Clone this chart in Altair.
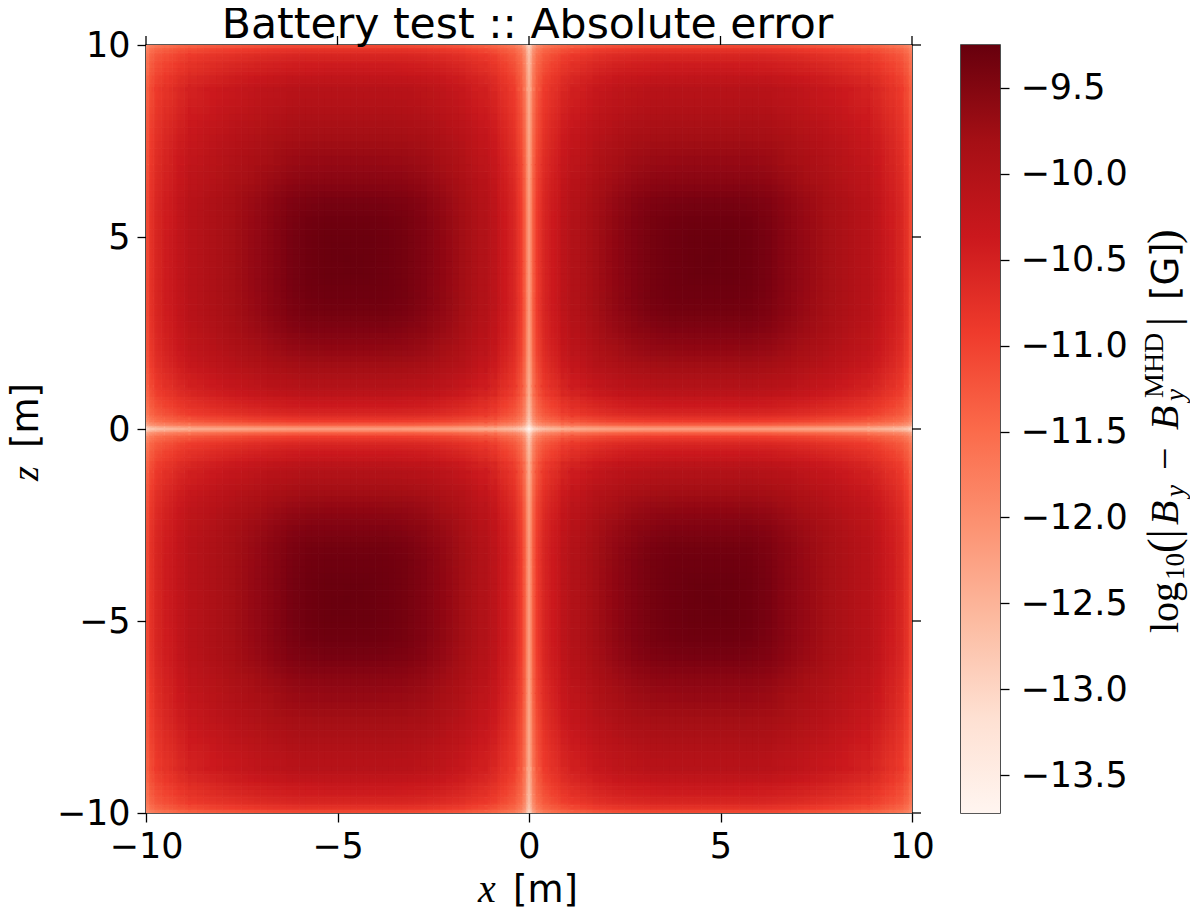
import altair as alt
import pandas as pd

# half-axis cell edges (the field is mirrored into the four quadrants)
x_edges = [0, .06, .15, .3, .5, .75, 1, 1.5, 2, 2.5, 3, 3.5, 4, 4.5, 5, 5.5, 6, 6.5, 7, 7.5, 8, 8.5, 9, 9.3, 9.6, 9.8, 9.93, 10]
z_edges = [0, .06, .15, .3, .5, .75, 1, 1.45, 1.9, 2.35, 2.8, 3.25, 3.75, 4.2, 4.7, 5.2, 5.7, 6.2, 6.7, 7.3, 7.85, 8.4, 9, 9.3, 9.6, 9.8, 9.93, 10]
peak = -9.28
# depth below the peak of log10|error|, read per cell: rows run from z=0 to |z|=10, columns from x=0 to |x|=10
depth_rows = [
[4.48,3.95,3.59,3.37,3.26,3.18,3.09,3.00,2.95,2.92,2.90,2.90,2.90,2.90,2.90,2.90,2.91,2.94,2.97,3.01,3.06,3.11,3.20,3.28,3.36,3.49,3.68],
[3.95,3.39,2.98,2.75,2.63,2.53,2.42,2.33,2.27,2.23,2.21,2.20,2.20,2.20,2.20,2.20,2.22,2.25,2.29,2.33,2.39,2.45,2.55,2.64,2.74,2.87,3.09],
[3.59,2.98,2.55,2.28,2.15,2.04,1.91,1.80,1.73,1.69,1.66,1.65,1.65,1.65,1.65,1.65,1.67,1.71,1.75,1.81,1.87,1.95,2.06,2.16,2.27,2.43,2.66],
[3.37,2.75,2.28,2.00,1.85,1.73,1.59,1.47,1.39,1.34,1.31,1.30,1.30,1.30,1.30,1.30,1.32,1.37,1.42,1.48,1.55,1.63,1.75,1.87,1.99,2.16,2.41],
[3.26,2.63,2.15,1.85,1.69,1.57,1.42,1.28,1.20,1.14,1.11,1.10,1.10,1.10,1.10,1.10,1.12,1.17,1.23,1.29,1.37,1.46,1.59,1.71,1.83,2.02,2.27],
[3.18,2.53,2.04,1.73,1.57,1.43,1.28,1.13,1.04,.98,.95,.93,.93,.93,.93,.93,.96,1.01,1.07,1.14,1.23,1.32,1.46,1.59,1.71,1.90,2.17],
[3.09,2.42,1.91,1.59,1.42,1.28,1.11,.95,.85,.78,.74,.72,.72,.72,.72,.72,.75,.81,.88,.96,1.06,1.16,1.30,1.44,1.58,1.77,2.05],
[3.00,2.33,1.80,1.47,1.28,1.13,.95,.77,.66,.57,.52,.51,.50,.50,.50,.51,.54,.62,.70,.79,.89,1.00,1.16,1.30,1.45,1.66,1.94],
[2.95,2.27,1.73,1.39,1.20,1.04,.85,.66,.53,.43,.37,.35,.34,.34,.34,.35,.39,.48,.57,.67,.79,.90,1.07,1.22,1.37,1.59,1.88],
[2.92,2.23,1.69,1.34,1.14,.98,.78,.57,.43,.32,.25,.22,.21,.21,.21,.22,.27,.38,.48,.59,.71,.84,1.01,1.17,1.32,1.54,1.83],
[2.90,2.21,1.66,1.31,1.11,.95,.74,.52,.37,.25,.15,.11,.10,.10,.10,.12,.19,.31,.43,.54,.67,.80,.98,1.14,1.29,1.51,1.81],
[2.90,2.20,1.65,1.30,1.10,.93,.72,.51,.35,.22,.11,.06,.04,.04,.04,.07,.15,.29,.41,.52,.65,.78,.97,1.12,1.28,1.50,1.80],
[2.90,2.20,1.65,1.30,1.10,.93,.72,.50,.34,.21,.10,.04,.01,.01,.01,.05,.14,.28,.40,.52,.65,.78,.96,1.12,1.28,1.50,1.80],
[2.90,2.20,1.65,1.30,1.10,.93,.72,.50,.34,.21,.10,.04,.01,.00,.01,.05,.14,.28,.40,.52,.65,.78,.96,1.12,1.28,1.50,1.80],
[2.90,2.20,1.65,1.30,1.10,.93,.72,.50,.34,.21,.10,.04,.01,.01,.01,.05,.14,.28,.40,.52,.65,.78,.96,1.12,1.28,1.50,1.80],
[2.90,2.20,1.65,1.30,1.10,.93,.72,.51,.35,.22,.12,.07,.05,.05,.05,.08,.16,.29,.41,.53,.65,.78,.97,1.13,1.28,1.50,1.80],
[2.91,2.22,1.67,1.32,1.12,.96,.75,.54,.39,.27,.19,.15,.14,.14,.14,.16,.22,.33,.44,.56,.68,.81,.99,1.15,1.30,1.52,1.82],
[2.94,2.25,1.71,1.37,1.17,1.01,.81,.62,.48,.38,.31,.29,.28,.28,.28,.29,.33,.43,.53,.63,.75,.87,1.04,1.20,1.35,1.56,1.86],
[2.97,2.29,1.75,1.42,1.23,1.07,.88,.70,.57,.48,.43,.41,.40,.40,.40,.41,.44,.53,.62,.71,.82,.94,1.10,1.25,1.40,1.61,1.90],
[3.01,2.33,1.81,1.48,1.29,1.14,.96,.79,.67,.59,.54,.52,.52,.52,.52,.53,.56,.63,.71,.80,.90,1.01,1.17,1.31,1.46,1.67,1.95],
[3.06,2.39,1.87,1.55,1.37,1.23,1.06,.89,.79,.71,.67,.65,.65,.65,.65,.65,.68,.75,.82,.90,1.00,1.10,1.26,1.39,1.53,1.73,2.01],
[3.11,2.45,1.95,1.63,1.46,1.32,1.16,1.00,.90,.84,.80,.78,.78,.78,.78,.78,.81,.87,.94,1.01,1.10,1.20,1.35,1.48,1.61,1.81,2.08],
[3.20,2.55,2.06,1.75,1.59,1.46,1.30,1.16,1.07,1.01,.98,.97,.96,.96,.96,.97,.99,1.04,1.10,1.17,1.26,1.35,1.48,1.61,1.74,1.92,2.19],
[3.28,2.64,2.16,1.87,1.71,1.59,1.44,1.30,1.22,1.17,1.14,1.12,1.12,1.12,1.12,1.13,1.15,1.20,1.25,1.31,1.39,1.48,1.61,1.73,1.85,2.03,2.29],
[3.36,2.74,2.27,1.99,1.83,1.71,1.58,1.45,1.37,1.32,1.29,1.28,1.28,1.28,1.28,1.28,1.30,1.35,1.40,1.46,1.53,1.61,1.74,1.85,1.97,2.15,2.40],
[3.49,2.87,2.43,2.16,2.02,1.90,1.77,1.66,1.59,1.54,1.51,1.50,1.50,1.50,1.50,1.50,1.52,1.56,1.61,1.67,1.73,1.81,1.92,2.03,2.15,2.31,2.55],
[3.68,3.09,2.66,2.41,2.27,2.17,2.05,1.94,1.88,1.83,1.81,1.80,1.80,1.80,1.80,1.80,1.82,1.86,1.90,1.95,2.01,2.08,2.19,2.29,2.40,2.55,2.77],
]
axis_ticks = [-10, -5, 0, 5, 10]
cbar_ticks = [-9.5, -10.0, -10.5, -11.0, -11.5, -12.0, -12.5, -13.0, -13.5]
cbar_low, cbar_high = -13.72, -9.25
reds = ["#fff5f0", "#fee0d2", "#fcbba1", "#fc9272", "#fb6a4a", "#ef3b2c", "#cb181d", "#a50f15", "#67000d"]
title_text = "Battery test :: Absolute error"

SANS = "DejaVu Sans"
SERIF = "Liberation Serif"
TICK = 1.3
W, H = 766, 768
CW = 39
LABEL = 35


def cells(shift):
    """All cells of the field; `shift` (a fraction of each cell) softens the cell steps when layered."""
    rows = []
    n = len(x_edges) - 1
    for j in range(n):
        zw = z_edges[j + 1] - z_edges[j]
        for i in range(n):
            xw = x_edges[i + 1] - x_edges[i]
            v = round(peak - depth_rows[j][i], 2)
            for sx in (-1, 1):
                for sz in (-1, 1):
                    rows.append({
                        "x0": sx * (x_edges[i] + shift * xw),
                        "x1": sx * (x_edges[i + 1] + shift * xw),
                        "z0": sz * (z_edges[j] + shift * zw),
                        "z1": sz * (z_edges[j + 1] + shift * zw),
                        "v": v,
                    })
    return pd.DataFrame(rows)


ticks = pd.DataFrame({"t": axis_ticks})
stops = [cbar_low + (cbar_high - cbar_low) * k / 8 for k in range(9)]
color_scale = alt.Scale(domain=stops, range=reds, clamp=True)
xs = alt.Scale(domain=[-10, 10], nice=False, zero=False)
zs = alt.Scale(domain=[-10, 10], nice=False, zero=False)


def axis():
    return alt.Axis(values=axis_ticks, format="d", title=None, grid=False, domain=False,
                    tickSize=9, tickWidth=TICK, tickColor="black", labelFontSize=LABEL,
                    labelFont=SANS, labelColor="black", labelPadding=7, labelFlush=False,
                    labelOverlap=False)


def heat_layer(shift, opacity, stroked):
    mark = dict(clip=True, opacity=opacity)
    enc = dict(
        x=alt.X("x0:Q", scale=xs, axis=axis()),
        x2="x1:Q",
        y=alt.Y("z0:Q", scale=zs, axis=axis()),
        y2="z1:Q",
        fill=alt.Fill("v:Q", scale=color_scale, legend=None),
    )
    if stroked:
        mark["strokeWidth"] = 0.6
        enc["stroke"] = alt.Stroke("v:Q", scale=color_scale, legend=None)
    return alt.Chart(cells(shift)).mark_rect(**mark).encode(**enc)


rule = dict(color="black", strokeWidth=TICK)
top_ticks = alt.Chart(ticks).mark_rule(**rule).encode(
    x=alt.X("t:Q", scale=xs, axis=axis()), y=alt.value(-9), y2=alt.value(0))
right_ticks = alt.Chart(ticks).mark_rule(**rule).encode(
    y=alt.Y("t:Q", scale=zs, axis=axis()), x=alt.value(W), x2=alt.value(W + 9))


def label(text, x, y, size=37, font=SANS, style="normal", angle=0, align="left"):
    return alt.Chart(pd.DataFrame({"a": [0]})).mark_text(
        text=text, font=font, fontSize=size, fontStyle=style, angle=angle, align=align,
        baseline="alphabetic", color="black",
    ).encode(x=alt.value(x), y=alt.value(y))


main_labels = [
    label(title_text, 381.5, -7, 42.6, SANS, "normal", 0, "center"),
    label("x", 332, 857, 40, SERIF, "italic"),
    label("[m]", 367, 857, 37),
    label("z", -108, 436, 38, SERIF, "italic", 270),
    label("[m]", -108, 403, 37, SANS, "normal", 270),
]
main = alt.layer(
    heat_layer(0, 1, True), heat_layer(1 / 3, 1 / 2, False), heat_layer(-1 / 3, 1 / 3, False),
    top_ticks, right_ticks, *main_labels,
).properties(width=W, height=H)

gradient = alt.LinearGradient(
    gradient="linear", x1=0, x2=0, y1=1, y2=0,
    stops=[alt.GradientStop(color=c, offset=k / 8) for k, c in enumerate(reds)],
)
bar_scale = alt.Scale(domain=[cbar_low, cbar_high], nice=False, zero=False)
bar = alt.Chart(pd.DataFrame({"lo": [cbar_low], "hi": [cbar_high]})).mark_rect(fill=gradient).encode(
    y=alt.Y("lo:Q", scale=bar_scale, axis=alt.Axis(
        orient="right", values=cbar_ticks, format=".1f", title=None, grid=False, domain=False,
        tickSize=9, tickWidth=TICK, tickColor="black", labelFontSize=LABEL, labelFont=SANS,
        labelColor="black", labelPadding=11, labelFlush=False, labelOverlap=False)),
    y2="hi:Q",
    x=alt.value(0), x2=alt.value(CW),
)
# mathtext of the colourbar title, piece by piece (rotated)
OX, OY = 961, 45
BASE = 1178 - OX
bar_labels = [
    label("log", BASE, 633 - OY, 40, SERIF, "normal", 270),
    label("10", BASE + 6, 580 - OY, 27, SERIF, "normal", 270),
    label("(|", BASE, 553 - OY, 44, SERIF, "normal", 270),
    label("B", BASE, 525 - OY, 40, SERIF, "italic", 270),
    label("y", BASE + 6, 497 - OY, 27, SERIF, "italic", 270),
    label("\u2212", BASE, 470 - OY, 40, SERIF, "normal", 270),
    label("B", BASE, 430 - OY, 40, SERIF, "italic", 270),
    label("y", BASE + 6, 401 - OY, 27, SERIF, "italic", 270),
    label("MHD", BASE - 15, 398 - OY, 28, SERIF, "normal", 270),
    label("|", BASE, 326 - OY, 44, SERIF, "normal", 270),
    label("[G]", BASE, 300 - OY, 37, SANS, "normal", 270),
    label(")", BASE, 244 - OY, 44, SERIF, "normal", 270),
]
colorbar = alt.layer(bar, *bar_labels).properties(width=CW, height=H)

chart = alt.hconcat(main, colorbar, spacing=24).resolve_scale(
    fill="independent", stroke="independent"
).properties(
    padding={"left": -1, "top": -5, "right": 0, "bottom": 0},
    background="white",
).configure_view(stroke="#222222", strokeWidth=1.6)

chart.save("out.html", embed_options={"renderer": "svg", "actions": False})
